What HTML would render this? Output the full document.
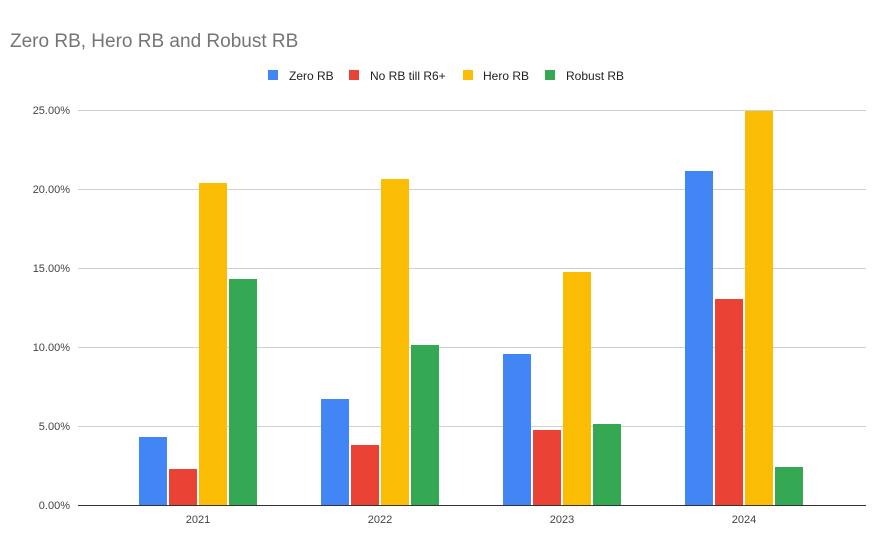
<!DOCTYPE html>
<html><head><style>
body{margin:0;background:#fff;}
svg{display:block;font-family:"Liberation Sans",Arial,sans-serif;}
</style></head><body>
<svg width="894" height="553" xmlns="http://www.w3.org/2000/svg">
<rect width="894" height="553" fill="#fff"/>
<text x="10" y="47" font-size="19" fill="#757575">Zero RB, Hero RB and Robust RB</text>
<g font-size="12" fill="#222">
<rect x="268" y="70" width="10" height="10" fill="#4285f4"/><text x="289" y="80">Zero RB</text>
<rect x="349" y="70" width="10" height="10" fill="#ea4335"/><text x="370" y="80">No RB till R6+</text>
<rect x="463" y="70" width="10" height="10" fill="#fbbc04"/><text x="483" y="80">Hero RB</text>
<rect x="545" y="70" width="10" height="10" fill="#34a853"/><text x="566" y="80">Robust RB</text>
</g>
<g stroke="#d0d0d0" stroke-width="1">
<line x1="78" x2="866" y1="110.5" y2="110.5"/>
<line x1="78" x2="866" y1="189.5" y2="189.5"/>
<line x1="78" x2="866" y1="268.5" y2="268.5"/>
<line x1="78" x2="866" y1="347.5" y2="347.5"/>
<line x1="78" x2="866" y1="426.5" y2="426.5"/>
</g>
<g font-size="11" fill="#444" text-anchor="end">
<text x="70" y="114">25.00%</text>
<text x="70" y="193">20.00%</text>
<text x="70" y="272">15.00%</text>
<text x="70" y="351">10.00%</text>
<text x="70" y="430">5.00%</text>
<text x="70" y="509">0.00%</text>
</g>
<g>
<rect x="139" y="437" width="28" height="68" fill="#4285f4"/>
<rect x="169" y="469" width="28" height="36" fill="#ea4335"/>
<rect x="199" y="183" width="28" height="322" fill="#fbbc04"/>
<rect x="229" y="279" width="28" height="226" fill="#34a853"/>
<rect x="321" y="399" width="28" height="106" fill="#4285f4"/>
<rect x="351" y="445" width="28" height="60" fill="#ea4335"/>
<rect x="381" y="179" width="28" height="326" fill="#fbbc04"/>
<rect x="411" y="345" width="28" height="160" fill="#34a853"/>
<rect x="503" y="354" width="28" height="151" fill="#4285f4"/>
<rect x="533" y="430" width="28" height="75" fill="#ea4335"/>
<rect x="563" y="272" width="28" height="233" fill="#fbbc04"/>
<rect x="593" y="424" width="28" height="81" fill="#34a853"/>
<rect x="685" y="171" width="28" height="334" fill="#4285f4"/>
<rect x="715" y="299" width="28" height="206" fill="#ea4335"/>
<rect x="745" y="111" width="28" height="394" fill="#fbbc04"/>
<rect x="775" y="467" width="28" height="38" fill="#34a853"/>
</g>
<line x1="78" x2="866" y1="505.5" y2="505.5" stroke="#333" stroke-width="1"/>
<g font-size="11" fill="#444" text-anchor="middle">
<text x="198" y="523">2021</text>
<text x="380" y="523">2022</text>
<text x="562" y="523">2023</text>
<text x="744" y="523">2024</text>
</g>
</svg>
</body></html>
